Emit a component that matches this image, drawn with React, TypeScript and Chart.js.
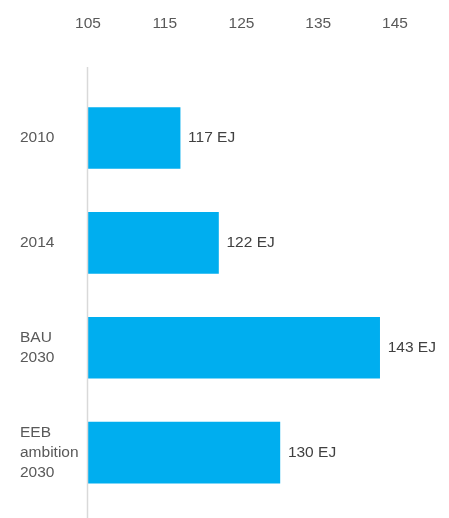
import React, { useEffect, useRef } from "react";
import { Chart, registerables } from "chart.js";

Chart.register(...registerables);

const categories: string[][] = [["2010"], ["2014"], ["BAU", "2030"], ["EEB", "ambition", "2030"]];
const values: number[] = [117, 122, 143, 130];
const valueLabels: string[] = ["117 EJ", "122 EJ", "143 EJ", "130 EJ"];
const xMin = 105;
const xMax = 145;
const xStep = 10;

const FONT = "'Liberation Sans', Arial, sans-serif";
const FS = 15.5;

const extras = {
  id: "extras",
  afterDatasetsDraw(chart: any) {
    const ctx = chart.ctx;
    const area = chart.chartArea;
    ctx.save();
    ctx.strokeStyle = "#d9d9d9";
    ctx.lineWidth = 1.5;
    ctx.beginPath();
    ctx.moveTo(area.left - 0.5, 67);
    ctx.lineTo(area.left - 0.5, chart.height);
    ctx.stroke();
    const meta = chart.getDatasetMeta(0);
    ctx.fillStyle = "#404040";
    ctx.font = `${FS}px ${FONT}`;
    ctx.textAlign = "left";
    ctx.textBaseline = "middle";
    meta.data.forEach((el: any, i: number) => {
      ctx.fillText(valueLabels[i], el.x + 8, el.y);
    });
    ctx.restore();
  },
};

export default function App() {
  const ref = useRef<HTMLCanvasElement>(null);
  useEffect(() => {
    document.body.style.margin = "0";
    const chart = new Chart(ref.current!, {
      type: "bar",
      data: {
        labels: categories,
        datasets: [
          {
            data: values.map((v) => [xMin, v]),
            backgroundColor: "#00AEEF",
            barThickness: 61,
            borderSkipped: false,
          },
        ],
      },
      options: {
        indexAxis: "y",
        animation: false,
        responsive: false,
        maintainAspectRatio: false,
        layout: { padding: { top: 14, left: 20, right: 54, bottom: 10 } },
        plugins: { legend: { display: false }, tooltip: { enabled: false } },
        scales: {
          x: {
            position: "top",
            min: xMin,
            max: xMax,
            grid: { display: false, drawTicks: true, tickLength: 52 },
            border: { display: false },
            afterFit: (s: any) => {
              s.height = 71.5;
            },
            ticks: {
              stepSize: xStep,
              padding: 0,
              color: "#595959",
              font: { family: FONT, size: FS },
            },
          },
          y: {
            grid: { display: false, drawTicks: false },
            border: { display: false },
            afterFit: (s: any) => {
              s.width = 68;
            },
            ticks: {
              crossAlign: "far",
              color: "#595959",
              font: { family: FONT, size: FS, lineHeight: 1.27 },
            },
          },
        },
      },
      plugins: [extras],
    });
    return () => chart.destroy();
  }, []);
  return (
    <div style={{ position: "relative", width: 449, height: 518 }}>
      <canvas ref={ref} width={449} height={518} />
    </div>
  );
}
